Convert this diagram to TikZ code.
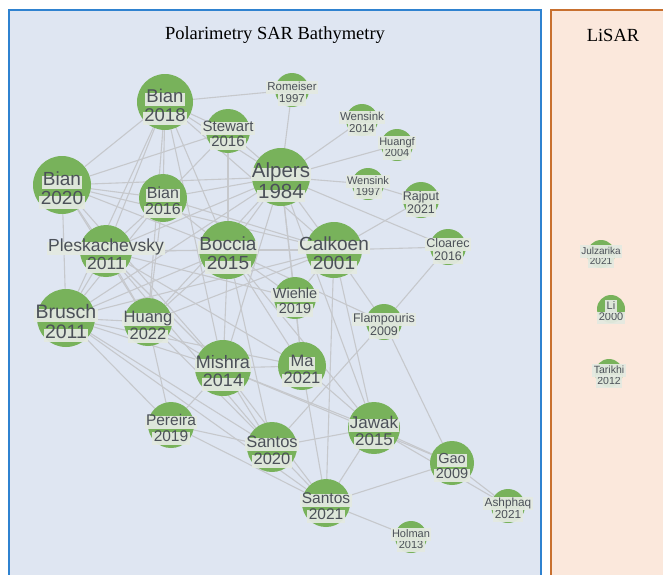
\documentclass[tikz,border=0pt]{standalone}
\usepackage{fontspec}
\setmainfont{Liberation Serif}
\setsansfont{Liberation Sans}
\usetikzlibrary{backgrounds}

\definecolor{panelblue}{HTML}{DFE6F2}
\definecolor{frameblue}{HTML}{2F82D0}
\definecolor{panelorange}{HTML}{FBE8DC}
\definecolor{frameorange}{HTML}{C8702F}
\definecolor{discgreen}{HTML}{78B25B}
\definecolor{tagbg}{HTML}{E4EAE1}
\definecolor{inkgray}{HTML}{4C5159}
\definecolor{linkgray}{HTML}{C6C8CC}

\tikzset{
  x=1pt, y=-1pt,
  panel/.style={line width=2.2pt},
  pubdisc/.style={circle, fill=discgreen, draw=none, inner sep=0pt},
  tag/.style={fill=tagbg, fill opacity=0.94, text opacity=1, text=inkgray,
              inner xsep=1.4pt, inner ysep=1.6pt, text height=0.74em,
              text depth=0.2em, anchor=base},
  link/.style={draw=linkgray, line width=1.1pt},
  heading/.style={font=\fontsize{18.5}{20}\selectfont, text=black},
}

% \pub{name}{x}{y}{radius}{font size}{first line}{second line}
\newcommand\pub[7]{%
  \node[pubdisc, minimum size={2*#4pt}] (#1) at (#2,#3) {};
  \node[tag, font=\sffamily\fontsize{#5}{#5}\selectfont] (#1-b) at (#2,{#3+1.05*#5}) {#7};
  \node[tag, font=\sffamily\fontsize{#5}{#5}\selectfont] (#1-a) at (#2,{#3+0.0*#5}) {#6};
}

\begin{document}
\begin{tikzpicture}
\useasboundingbox (0,0) rectangle (663,574);
\clip (0,0) rectangle (663,574);

% publications, polarimetry group
\pub{B18}{165}{102}{28}{18.5}{Bian}{2018}
\pub{B20}{62}{185}{29}{19}{Bian}{2020}
\pub{B16}{163}{198}{24}{16}{Bian}{2016}
\pub{PL}{106}{251}{26}{17.5}{Pleskachevsky}{2011}
\pub{ST}{228}{131}{22}{15}{Stewart}{2016}
\pub{RO}{292}{90}{17}{11.5}{Romeiser}{1997}
\pub{AL}{281}{177}{29}{20.5}{Alpers}{1984}
\pub{W14}{362}{120}{16}{11.5}{Wensink}{2014}
\pub{HF}{397}{145}{16}{11}{Huangf}{2004}
\pub{W97}{368}{184}{16}{11}{Wensink}{1997}
\pub{RA}{421}{200}{18}{12.5}{Rajput}{2021}
\pub{CL}{448}{247}{18}{12.5}{Cloarec}{2016}
\pub{CA}{334}{250}{28}{19}{Calkoen}{2001}
\pub{BO}{228}{250}{29}{19}{Boccia}{2015}
\pub{BR}{66}{318}{29}{19.5}{Brusch}{2011}
\pub{HU}{148}{322}{24}{16.5}{Huang}{2022}
\pub{MI}{223}{368}{28}{18}{Mishra}{2014}
\pub{PE}{171}{425}{23}{15.5}{Pereira}{2019}
\pub{WI}{295}{298}{21}{14.5}{Wiehle}{2019}
\pub{FL}{384}{322}{18}{12.5}{Flampouris}{2009}
\pub{MA}{302}{366}{24}{16.5}{Ma}{2021}
\pub{JA}{374}{428}{26}{17}{Jawak}{2015}
\pub{S20}{272}{447}{25}{16.5}{Santos}{2020}
\pub{GA}{452}{463}{22}{14.5}{Gao}{2009}
\pub{S21}{326}{503}{24}{15.5}{Santos}{2021}
\pub{AS}{508}{506}{17}{11.8}{Ashphaq}{2021}
\pub{HO}{411}{537}{16}{11}{Holman}{2013}

% publications, LiSAR group
\pub{JU}{601}{254}{14}{10}{Julzarika}{2021}
\pub{LI}{611}{309}{14}{11}{Li}{2000}
\pub{TA}{609}{373}{14}{10.5}{Tarikhi}{2012}

\begin{scope}[on background layer]
  % group panels
  \draw[panel, draw=frameblue, fill=panelblue] (9,10) rectangle (541,590);
  \draw[panel, draw=frameorange, fill=panelorange] (551,10) rectangle (680,590);
  \node[heading] (t1) at (275,35) {Polarimetry SAR Bathymetry};
  \node[heading] (t2) at (613,35) {LiSAR};

  % citation links
  \foreach \a/\b in {
    AL/RO, AL/W14, AL/HF, AL/W97, AL/CL, AL/ST, AL/B18, AL/B20, AL/B16,
    AL/PL, AL/BO, AL/CA, AL/BR, AL/HU, AL/MI, AL/WI, AL/MA, AL/JA,
    RO/B18, W97/RA, RA/CA, CA/CL, CL/FL,
    ST/B20, ST/B16, ST/B18, ST/BO,
    B18/B20, B18/B16, B18/PL, B18/BO, B18/BR, B18/HU, B18/MI, B18/CA,
    B20/B16, B20/PL, B20/BR, B20/BO, B20/CA, B20/HU, B20/MI,
    B16/PL, B16/BO, B16/BR, B16/HU, B16/CA,
    PL/BO, PL/BR, PL/HU, PL/MI, PL/CA, PL/WI, PL/MA, PL/S20,
    BO/CA, BO/MI, BO/WI, BO/HU, BO/BR, BO/MA, BO/S20, BO/JA, BO/FL,
    CA/WI, CA/FL, CA/JA, CA/S21, CA/HU, CA/BR,
    FL/S20, FL/GA, WI/MA,
    MA/MI, MA/JA, MA/S21, MA/BR,
    MI/S20, MI/S21, MI/PE, MI/HU, MI/BR, MI/JA, MI/GA,
    HU/PE, HU/BR, HU/S20,
    BR/PE, BR/S20, BR/S21,
    PE/S20, PE/S21,
    S20/JA, S20/S21,
    JA/S21, JA/GA, JA/AS,
    S21/GA, S21/HO, GA/AS}
    \draw[link] (\a) -- (\b);
\end{scope}
\end{tikzpicture}
\end{document}
